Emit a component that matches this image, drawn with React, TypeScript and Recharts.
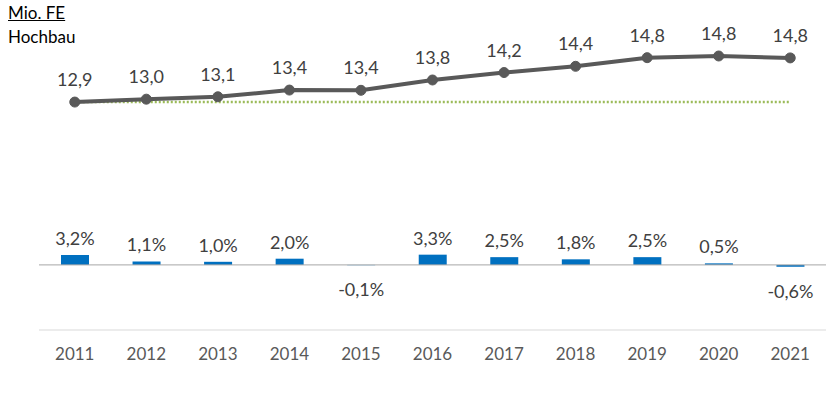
import React from 'react';
import { ComposedChart, Line, Bar, XAxis, YAxis, ReferenceLine, LabelList } from 'recharts';

const years = ['2011', '2012', '2013', '2014', '2015', '2016', '2017', '2018', '2019', '2020', '2021'];
const volume = [12.92, 13.04, 13.14, 13.42, 13.41, 13.84, 14.15, 14.41, 14.77, 14.84, 14.76];
const growth = [3.2, 1.1, 1.0, 2.0, -0.1, 3.3, 2.5, 1.8, 2.5, 0.5, -0.6];

const data = years.map((year, i) => ({ year, volume: volume[i], growth: growth[i] }));

const fmt = (v: number, d = 1) => v.toFixed(d).replace('.', ',');
const FONT = 'Lato, "Noto Sans", sans-serif';

const LineLabel = (props: any) => {
  const { x, y, value } = props;
  return (
    <text x={x} y={y - 23} textAnchor="middle" dominantBaseline="central" fontSize={18} fill="#404040" fontFamily={FONT}>
      {fmt(value)}
    </text>
  );
};

const BarLabel = (props: any) => {
  const { x, y, width, height, value } = props;
  const cx = x + width / 2;
  const top = Math.min(y, y + height);
  const bottom = Math.max(y, y + height);
  const ly = value >= 0 ? top - 17 : bottom + 24;
  return (
    <text x={cx} y={ly} textAnchor="middle" dominantBaseline="central" fontSize={18} fill="#404040" fontFamily={FONT}>
      {fmt(value)}%
    </text>
  );
};

const App: React.FC = () => {
  return (
    <div style={{ position: 'absolute', left: 0, top: 0, width: 831, height: 398, background: '#fff', fontFamily: FONT }}>
      <div style={{ position: 'absolute', left: 8, top: 3, fontSize: 17, color: '#000', textDecoration: 'underline', lineHeight: '20px' }}>
        Mio. FE
      </div>
      <div style={{ position: 'absolute', left: 8, top: 27, fontSize: 17, color: '#000', lineHeight: '20px' }}>
        Hochbau
      </div>
      <ComposedChart width={831} height={398} data={data} margin={{ top: 20, right: 5, bottom: 0, left: 39 }}>
        <XAxis
          dataKey="year"
          height={68}
          axisLine={{ stroke: '#d9d9d9', strokeWidth: 1 }}
          tickLine={false}
          tickMargin={12}
          tick={{ fontSize: 17, fill: '#595959', fontFamily: FONT }}
        />
        <YAxis yAxisId="line" hide domain={[3.42, 16.34]} />
        <YAxis yAxisId="bar" hide domain={[-21, 79]} />
        <ReferenceLine yAxisId="bar" y={0} stroke="#a6a6a6" strokeWidth={1} />
        <ReferenceLine
          yAxisId="line"
          segment={[{ x: years[0], y: volume[0] }, { x: years[years.length - 1], y: volume[0] }]}
          stroke="#9BBB59"
          strokeWidth={2.5}
          strokeDasharray="2 2"
        />
        <Bar yAxisId="bar" dataKey="growth" fill="#0070C0" barSize={28} isAnimationActive={false}>
          <LabelList dataKey="growth" content={<BarLabel />} />
        </Bar>
        <Line
          yAxisId="line"
          dataKey="volume"
          stroke="#595959"
          strokeWidth={4}
          dot={{ r: 5, fill: '#595959', stroke: '#595959', strokeWidth: 1 }}
          isAnimationActive={false}
        >
          <LabelList dataKey="volume" content={<LineLabel />} />
        </Line>
      </ComposedChart>
    </div>
  );
};

export default App;
